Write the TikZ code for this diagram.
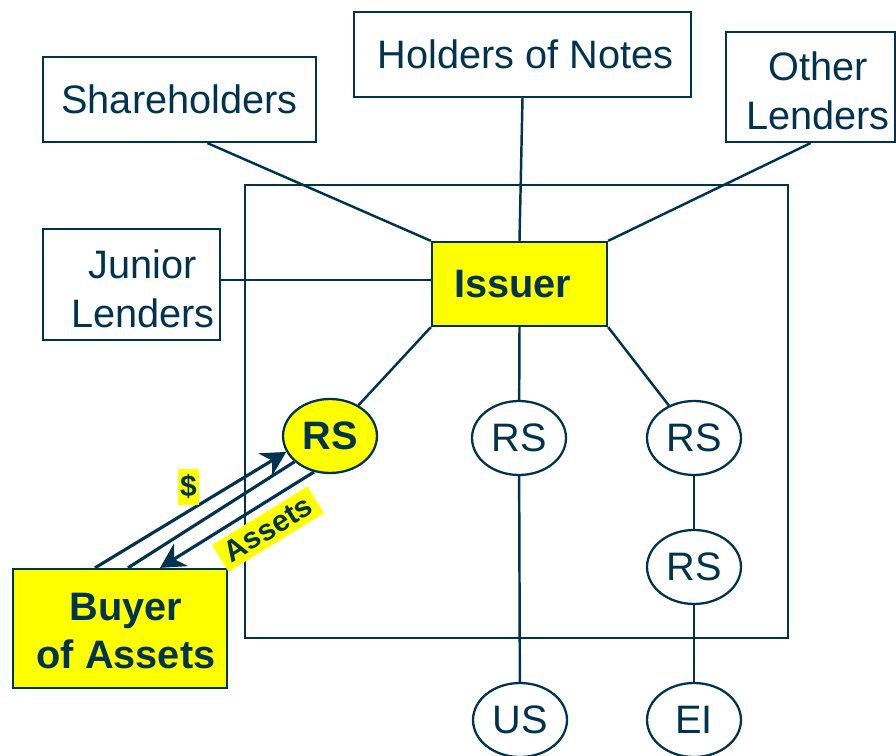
\documentclass[tikz,border=0pt]{standalone}
\usepackage{fontspec}
\setmainfont{Liberation Sans}
\usetikzlibrary{shapes.geometric,arrows.meta,calc}
\definecolor{navy}{HTML}{00334F}
\definecolor{hilite}{HTML}{FFFF00}
\begin{document}
\begin{tikzpicture}[x=0.02cm,y=-0.02cm,
  every node/.style={text=navy, font=\fontsize{22.6}{27.8}\selectfont},
  box/.style={draw=navy, line width=1.3pt, fill=white, inner sep=0pt, align=center},
  hot/.style={box, fill=hilite, font=\fontsize{22.6}{27.8}\selectfont\bfseries},
  oval/.style={ellipse, draw=navy, line width=1.3pt, fill=white, inner sep=0pt,
               minimum width=1.88cm, minimum height=1.48cm},
  hotoval/.style={oval, fill=hilite, font=\fontsize{22.6}{27.8}\selectfont\bfseries},
  link/.style={draw=navy, line width=1.4pt},
  flow/.style={draw=navy, line width=1.8pt},
  head/.style={-{Stealth[length=14pt,width=15pt]}},
  tag/.style={fill=hilite, font=\fontsize{17}{17}\selectfont\bfseries, inner xsep=1.5pt, inner ysep=3.5pt}]
\useasboundingbox (0,0) rectangle (896,756);

% outer frame around the issuer group
\draw[link] (245,185) rectangle (788,638);

% outside parties
\node[box, minimum width=5.46cm, minimum height=1.70cm] (sh) at (179.5,99.5) {Shareholders};
\node[box, minimum width=6.74cm, minimum height=1.70cm] (ho) at (522.5,54.5) {\hspace{0.12cm}Holders of Notes};
\node[box, minimum width=3.38cm, minimum height=2.20cm] (ol) at (810.5,87) {};
\node[align=center] (oltext) at (818,91) {Other\\Lenders};
\node[box, minimum width=3.54cm, minimum height=2.22cm] (jl) at (131.5,284.5) {};
\node[align=center] (jltext) at (143,289) {Junior\\Lenders};

% issuer and its subsidiaries
\node[hot, minimum width=3.5cm, minimum height=1.68cm] (iss) at (519.5,284) {Issuer\hspace{0.28cm}};
\node[hotoval] (rs1) at (330,436) {RS};
\node[oval] (rs2) at (519,438) {RS};
\node[oval] (rs3) at (694,438) {RS};
\node[oval] (rs4) at (694,567) {RS};
\node[oval] (us) at (520,720) {US};
\node[oval] (ei) at (694,720) {EI};

% buyer
\node[hot, minimum width=4.28cm, minimum height=2.38cm] (buy) at (120,628.5) {};
\node[align=center, font=\fontsize{22.6}{27.8}\selectfont\bfseries] (buytext) at (126,631) {Buyer\\of Assets};

% connectors
\draw[link] ($(sh.south)+(28,0)$) -- (iss.north west);
\draw[link] (ho.south) -- (iss.north);
\draw[link] (ol.south) -- (iss.north east);
\draw[link] ($(jl.east)+(0,-4.5)$) -- ($(jl.east -| iss.west)+(0,-4.5)$);
\draw[link] (iss.south west) -- (rs1);
\draw[link] (iss.south) -- (rs2);
\draw[link] (iss.south east) -- (rs3);
\draw[link] (rs2) -- (us);
\draw[link] (rs3) -- (rs4);
\draw[link] (rs4) -- (ei);

% sale flows
\draw[flow, head] ($(buy.north)+(-25,0)$) -- (rs1.200);
\draw[flow] ($(buy.north)+(8,0)$) -- (rs1.216);
\draw[flow, head] (rs1.246) -- ($(buy.north)+(40,0)$);
\node[tag] (dollar) at (188.5,487) {\$};
\node[tag, rotate=31.6, inner xsep=4pt, inner ysep=3pt] (assets) at (268,529) {Assets};
\end{tikzpicture}
\end{document}
